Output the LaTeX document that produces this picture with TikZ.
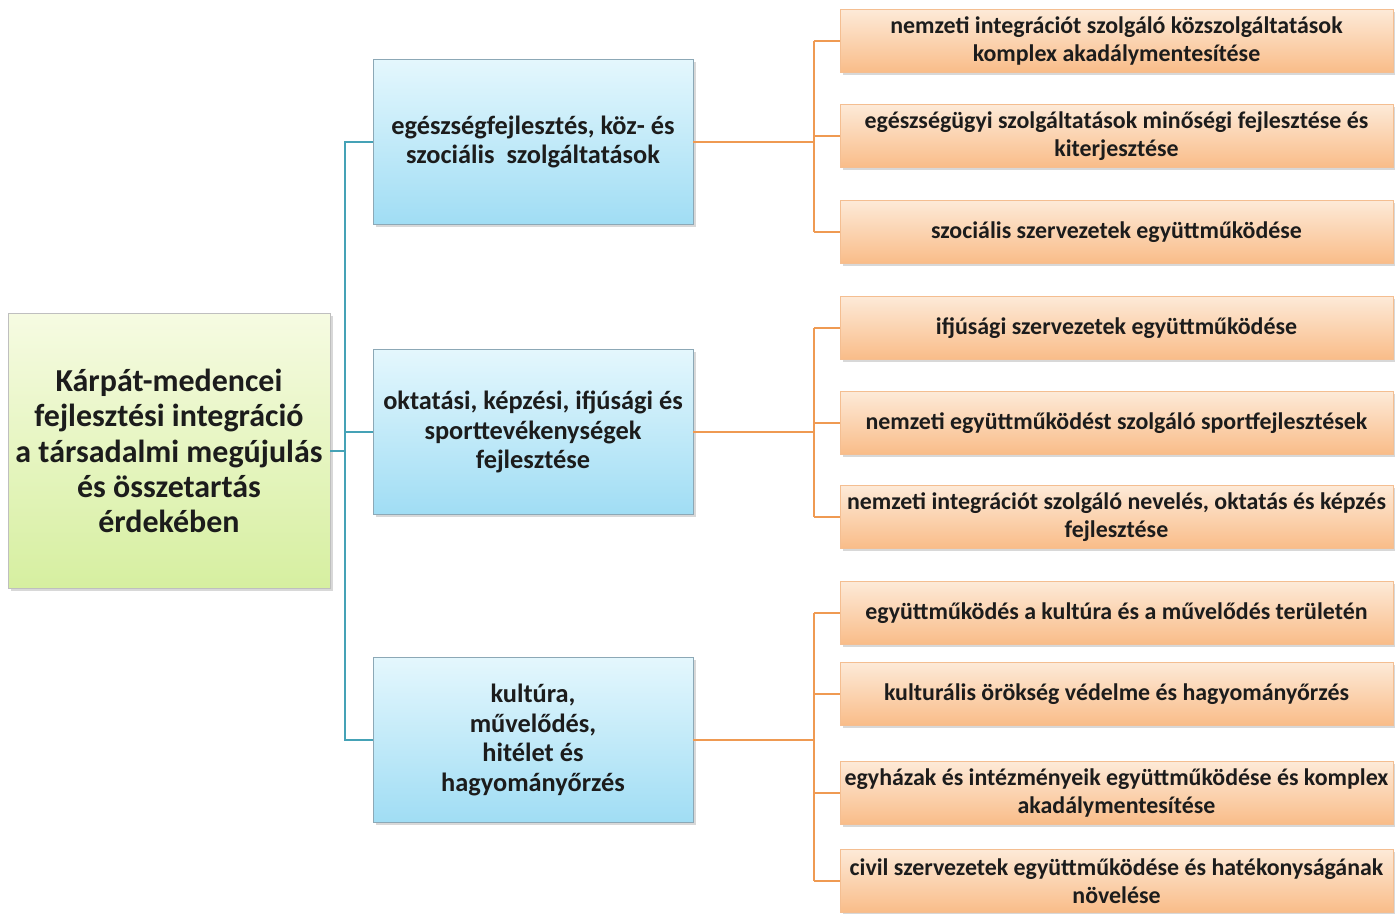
\documentclass[tikz,border=0pt]{standalone}
\usepackage{fontspec}
\setmainfont{Carlito}
\usetikzlibrary{shadows}
\definecolor{tealln}{HTML}{45A2B6}
\definecolor{orangeln}{HTML}{EF9A52}
\definecolor{txt}{HTML}{1C1C1C}
\tikzstyle{rootbox}=[draw=black!25, top color={rgb,255:red,246;green,251;blue,226}, bottom color={rgb,255:red,214;green,239;blue,160}, minimum width=6.44cm, minimum height=5.5cm, align=center, text=txt, font=\fontsize{18.2}{20}\selectfont\bfseries, drop shadow={shadow xshift=1.5pt, shadow yshift=-1.5pt, fill=black!30}]
\tikzstyle{midbox}=[draw={rgb,255:red,140;green,168;blue,182}, top color={rgb,255:red,228;green,247;blue,253}, bottom color={rgb,255:red,160;green,221;blue,244}, minimum width=6.4cm, minimum height=3.3cm, align=center, text=txt, font=\fontsize{15}{17}\selectfont\bfseries, drop shadow={shadow xshift=1.5pt, shadow yshift=-1.5pt, fill=black!30}]
\tikzstyle{leafbox}=[draw={rgb,255:red,244;green,190;blue,145}, top color={rgb,255:red,253;green,234;blue,216}, bottom color={rgb,255:red,249;green,188;blue,136}, minimum width=11.06cm, minimum height=1.27cm, inner xsep=1pt, align=center, text=txt, font=\fontsize{13.6}{15.6}\selectfont\bfseries, drop shadow={shadow xshift=1.5pt, shadow yshift=-1.5pt, fill=black!30}]
\tikzstyle{tline}=[draw=tealln, line width=1.3pt]
\tikzstyle{oline}=[draw=orangeln, line width=1.3pt]

\begin{document}
\begin{tikzpicture}[x=0.02cm,y=-0.02cm]
\useasboundingbox (0,0) rectangle (1395,913);
% root and the three topics
\node[rootbox] (root) at (169,451) {Kárpát-medencei\\fejlesztési integráció\\a társadalmi megújulás\\és összetartás\\érdekében};
\node[midbox] (m1) at (533,142) {egészségfejlesztés, köz- és\\szociális\ \ szolgáltatások};
\node[midbox] (m2) at (533,432) {oktatási, képzési, ifjúsági és\\sporttevékenységek\\fejlesztése};
\node[midbox] (m3) at (533,740) {kultúra,\\művelődés,\\hitélet és\\hagyományőrzés};
% leaves
\foreach \n/\y/\t in {
	1/41/{nemzeti integrációt szolgáló közszolgáltatások\\komplex akadálymentesítése},
	2/136/{egészségügyi szolgáltatások minőségi fejlesztése és\\kiterjesztése},
	3/232/{szociális szervezetek együttműködése},
	4/328/{ifjúsági szervezetek együttműködése},
	5/423/{nemzeti együttműködést szolgáló sportfejlesztések},
	6/517/{nemzeti integrációt szolgáló nevelés, oktatás és képzés\\fejlesztése},
	7/613/{együttműködés a kultúra és a művelődés területén},
	8/694/{kulturális örökség védelme és hagyományőrzés},
	9/793/{egyházak és intézményeik együttműködése és komplex\\akadálymentesítése},
	10/881/{civil szervezetek együttműködése és hatékonyságának\\növelése}} {
	\node[leafbox] (l\n) at (1116.5,\y) {\t};
}
% teal tree
\coordinate (trunk) at (345,451);
\draw[tline] (root.east) -- (trunk);
\draw[tline] (m1.west) -- (m1.west -| trunk) -- (m3.west -| trunk) -- (m3.west);
\draw[tline] (m2.west -| trunk) -- (m2.west);
% orange buses
\coordinate (bus) at (814,0);
\foreach \m/\a/\b/\ls in {1/1/3/{1,2,3}, 2/4/6/{4,5,6}, 3/7/10/{7,8,9,10}} {
	\draw[oline] (m\m.east) -- (m\m.east -| bus);
	\draw[oline] (l\a.west -| bus) -- (l\b.west -| bus);
	\foreach \l in \ls {
		\draw[oline] (l\l.west -| bus) -- (l\l.west);
	}
}
\end{tikzpicture}
\end{document}
